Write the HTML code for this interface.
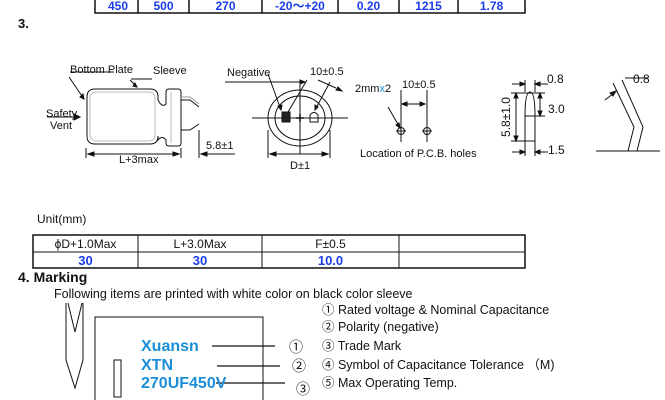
<!DOCTYPE html>
<html><head><meta charset="utf-8"><style>
html,body{margin:0;padding:0;background:#fff;}
#w{position:relative;width:665px;height:400px;overflow:hidden;font-family:"Liberation Sans","Noto Sans CJK JP",sans-serif;color:#111;}
.t{position:absolute;white-space:nowrap;line-height:1;}
.b{color:#1a3de8;font-weight:bold;font-size:12px;}
.m{color:#1a8fd8;font-weight:bold;font-size:15px;}
svg{position:absolute;left:0;top:0;}
</style></head><body><div id="w">
<svg width="665" height="400" viewBox="0 0 665 400" fill="none" stroke="#111" stroke-width="1">
<path d="M95 0V13H525V0 M138 0V13 M189 0V13 M262 0V13 M338 0V13 M399 0V13 M458 0V13" stroke-width="1.5"/>
<path d="M95 89H150Q158 89 158 97V100Q162 108 166 104V92Q166 89 169 89H178Q181 89 181 92V143Q181 146 178 146H169Q166 146 166 143V140Q162 135 158 140V136Q158 144 150 144H95Q87 144 87 136V97Q87 89 95 89Z"/>
<rect x="90" y="92" width="65" height="49" rx="6" stroke="#bbb"/>
<line x1="171" y1="92" x2="171" y2="143" stroke="#bbb"/>
<path d="M181 100H190L199 107 M181 130H190L199 124"/>
<path d="M181 97H190L199 104" stroke="#999"/>
<line x1="86" y1="148" x2="86" y2="158"/><line x1="181" y1="148" x2="181" y2="158"/><line x1="199" y1="130" x2="199" y2="158"/>
<line x1="88" y1="154" x2="179" y2="154"/>
<path d="M88 154l6-2v4z M179 154l-6-2v4z M201 154l6-2v4z" fill="#111"/>
<line x1="201" y1="154" x2="235" y2="154"/>
<path d="M70 72H114 M131 79H152 M69 77L84 99 M130 80L137 87" />
<path d="M84 99l-4-2 3-3z M137 87l-4-1 2-3z" fill="#111"/>
<path d="M47 117H80" /><path d="M80 117l-6-3v6z" fill="#111"/>
<ellipse cx="300" cy="118" rx="32" ry="28"/>
<ellipse cx="300" cy="118" rx="25" ry="22"/>
<path d="M252 118H348 M300 82V154"/>
<path d="M296 118H304 M300 114V122" stroke-width="1.5"/>
<rect x="282" y="112" width="8" height="10" fill="#222"/>
<path d="M310 122V115Q314 110 318 115V122Z"/>
<path d="M225 82H305 M268 74L281 110 M307 80L288 112 M330 82L315 110 M318 80L336 88"/>
<path d="M305 82l-5-2v4z M281 110l-3-4 4-1z M315 110l0-5 3 2z M342 91l-6-1 2-3z" fill="#111"/>
<line x1="268" y1="130" x2="268" y2="158"/><line x1="330" y1="130" x2="330" y2="158"/>
<line x1="270" y1="154" x2="328" y2="154"/>
<path d="M270 154l6-2v4z M328 154l-6-2v4z" fill="#111"/>
<path d="M401 90V142 M427 90V142 M402 104H425 M396 131H406 M422 131H432"/>
<path d="M402 104l5-2v4z M425 104l-5-2v4z" fill="#111"/>
<circle cx="401" cy="131" r="3.5"/><circle cx="427" cy="131" r="3.5"/>
<path d="M388 107L399 126" /><path d="M400 128l-4-3 3-2z" fill="#111"/>
<!-- lead detail -->
<path d="M525 80V92 M535 80V92 M525 141V156 M535 141V156"/>
<path d="M525 116Q525 92 530 92Q535 92 535 116 M525 116V141H535V116Z"/>
<path d="M512 84H523 M537 84H548 M512 152H523 M537 152H548 M511 93H545 M511 141H528 M516 93V141 M540 93V116 M533 116H545"/>
<path d="M516 93l-2 5h4z M516 141l-2-5h4z M540 93l-2 5h4z M540 116l-2-5h4z M525 84l-5-2v4z M535 84l5-2v4z M525 152l-5-2v4z M535 152l5-2v4z" fill="#111"/>
<!-- bent lead -->
<path d="M613 83L634 127L628 151 M622 80L643 127L637 151 M596 151H660 M625 78H648 M605 100L614 93"/>
<path d="M616 91l-6 2 3 3z" fill="#111"/>
<!-- bottom table -->
<rect x="33" y="235" width="492" height="33" stroke-width="1.5"/>
<path d="M33 252H525 M138 235V268 M262 235V268 M399 235V268" />
<!-- marking -->
<path d="M66 303V360L75 388L83 360V303 M68 303L75 332L82 303" />
<path d="M95 400V317H263V400"/>
<rect x="114" y="360" width="7" height="37"/>
<path d="M212 346H275 M217 366H280 M216 383H285" stroke-width="1.3"/>
</svg>
<div class="t b" style="left:98px;top:0px;width:40px;text-align:center">450</div>
<div class="t b" style="left:138px;top:0px;width:51px;text-align:center">500</div>
<div class="t b" style="left:189px;top:0px;width:73px;text-align:center">270</div>
<div class="t b" style="left:262px;top:0px;width:76px;text-align:center">-20～+20</div>
<div class="t b" style="left:338px;top:0px;width:61px;text-align:center">0.20</div>
<div class="t b" style="left:399px;top:0px;width:59px;text-align:center">1215</div>
<div class="t b" style="left:458px;top:0px;width:67px;text-align:center">1.78</div>
<div class="t" style="left:18px;top:17px;font-size:13px;font-weight:bold">3.</div>
<div class="t" style="left:70px;top:65px;font-size:11px">Bottom Plate</div>
<div class="t" style="left:153px;top:66px;font-size:11px">Sleeve</div>
<div class="t" style="left:46px;top:109px;font-size:11px">Safety</div>
<div class="t" style="left:50px;top:121px;font-size:11px">Vent</div>
<div class="t" style="left:119px;top:155px;font-size:11px">L+3max</div>
<div class="t" style="left:206px;top:141px;font-size:11px">5.8±1</div>
<div class="t" style="left:227px;top:68px;font-size:11px">Negative</div>
<div class="t" style="left:310px;top:67px;font-size:11px">10±0.5</div>
<div class="t" style="left:355px;top:84px;font-size:11px">2mm<span style="color:#1a8fd8">x</span>2</div>
<div class="t" style="left:402px;top:80px;font-size:11px">10±0.5</div>
<div class="t" style="left:290px;top:161px;font-size:11px">D±1</div>
<div class="t" style="left:360px;top:149px;font-size:11px">Location of P.C.B. holes</div>
<div class="t" style="left:547px;top:73px;font-size:12px">0.8</div>
<div class="t" style="left:548px;top:103px;font-size:12px">3.0</div>
<div class="t" style="left:548px;top:144px;font-size:12px">1.5</div>
<div class="t" style="left:481px;top:111px;width:50px;text-align:center;font-size:12px;transform:rotate(-90deg);transform-origin:center">5.8±1.0</div>
<div class="t" style="left:633px;top:73px;font-size:12px">0.8</div>
<div class="t" style="left:37px;top:213px;font-size:12px">Unit(mm)</div>
<div class="t" style="left:33px;top:238px;width:105px;text-align:center;font-size:12px">ϕD+1.0Max</div>
<div class="t" style="left:138px;top:238px;width:124px;text-align:center;font-size:12px">L+3.0Max</div>
<div class="t" style="left:262px;top:238px;width:137px;text-align:center;font-size:12px">F±0.5</div>
<div class="t b" style="left:33px;top:254px;width:105px;text-align:center;font-size:13px">30</div>
<div class="t b" style="left:138px;top:254px;width:124px;text-align:center;font-size:13px">30</div>
<div class="t b" style="left:262px;top:254px;width:137px;text-align:center;font-size:13px">10.0</div>
<div class="t" style="left:18px;top:270px;font-size:14px;font-weight:bold">4. Marking</div>
<div class="t" style="left:54px;top:288px;font-size:12.5px">Following items are printed with white color on black color sleeve</div>
<div class="t" style="left:322px;top:304px;font-size:12.5px">① Rated voltage &amp; Nominal Capacitance</div>
<div class="t" style="left:322px;top:321px;font-size:12.5px">② Polarity (negative)</div>
<div class="t" style="left:322px;top:340px;font-size:12.5px">③ Trade Mark</div>
<div class="t" style="left:322px;top:359px;font-size:12.5px">④ Symbol of Capacitance Tolerance （M)</div>
<div class="t" style="left:322px;top:377px;font-size:12.5px">⑤ Max Operating Temp.</div>
<div class="t m" style="left:141px;top:339px;font-size:16px">Xuansn</div>
<div class="t m" style="left:141px;top:358px;font-size:16px">XTN</div>
<div class="t m" style="left:141px;top:376px;font-size:16px">270UF450V</div>
<div class="t" style="left:289px;top:340px;font-size:14px">①</div>
<div class="t" style="left:292px;top:359px;font-size:14px">②</div>
<div class="t" style="left:296px;top:382px;font-size:14px">③</div>
</div></body></html>
